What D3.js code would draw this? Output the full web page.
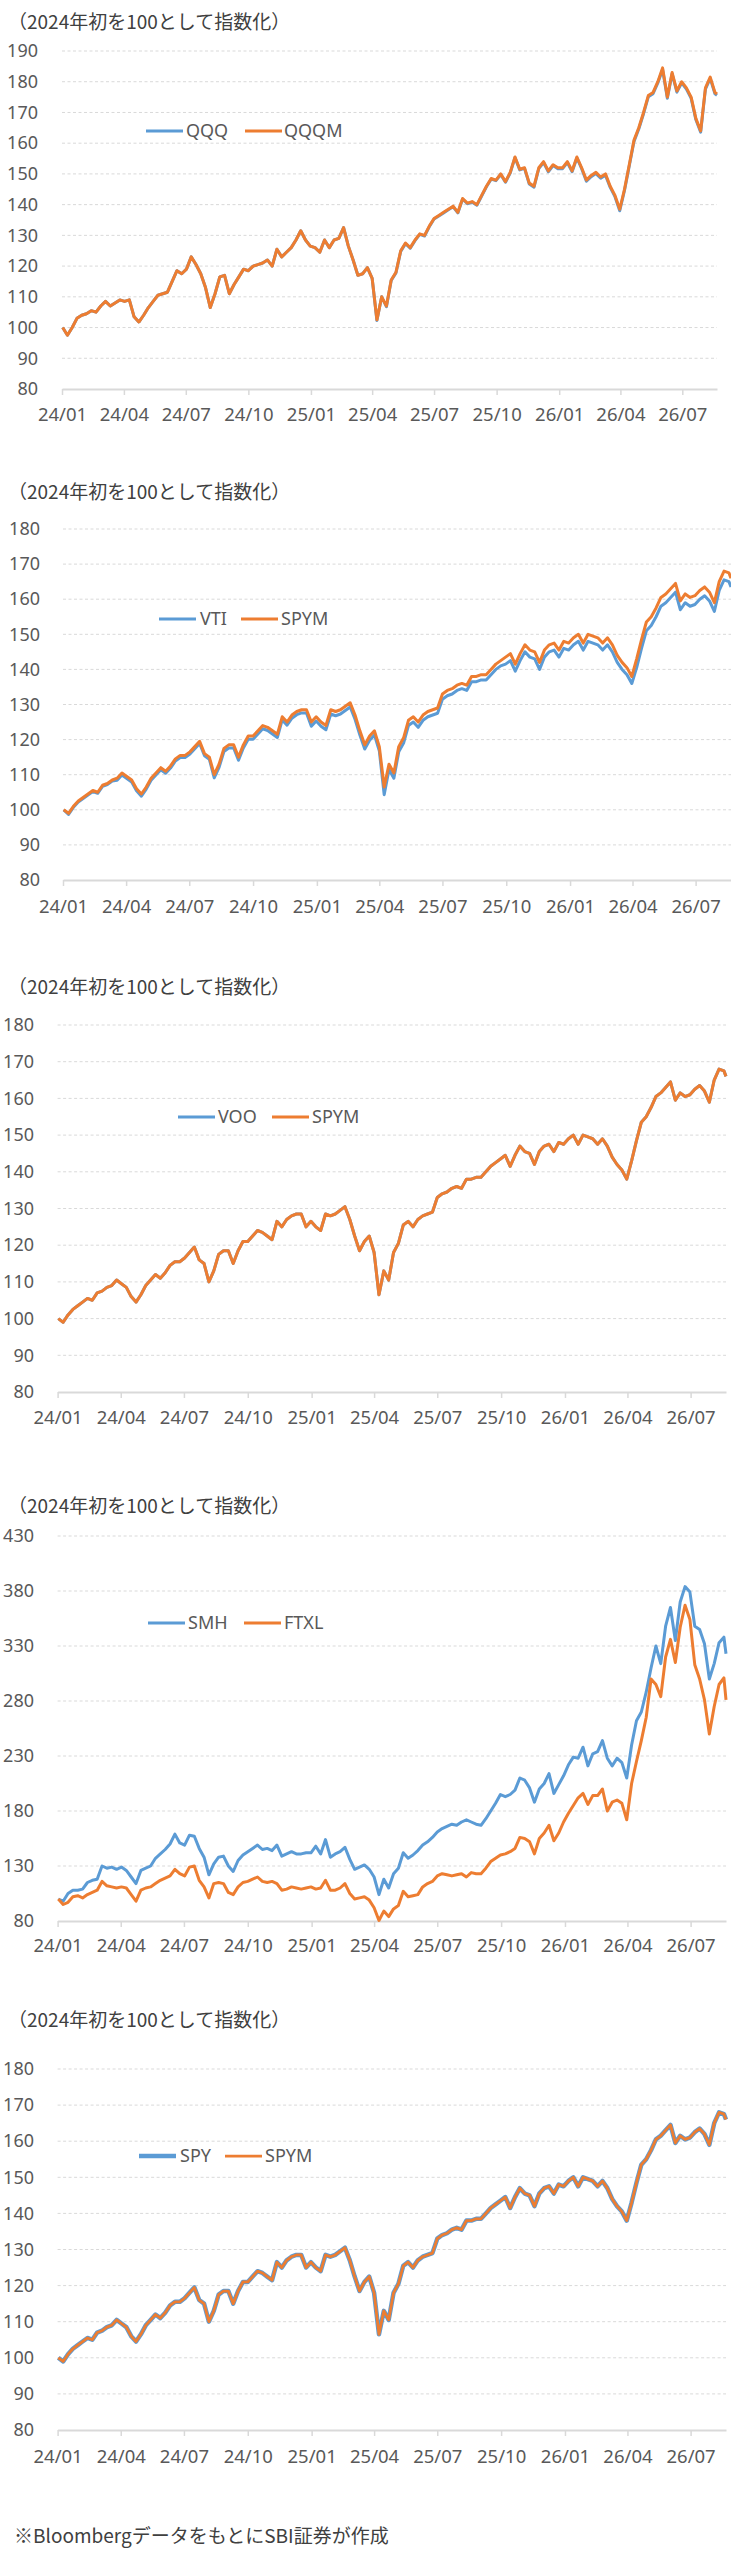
<!DOCTYPE html>
<html>
<head>
<meta charset="utf-8">
<script src="https://cdn.jsdelivr.net/npm/d3@7"></script>
<style>
  body { margin: 0; background: #fff; }
  text { font-family: "Noto Sans", "Liberation Sans", sans-serif; fill: #595959; }
  .jp { font-family: "Noto Sans CJK JP", sans-serif; fill: #404040; }
</style>
</head>
<body>
<div id="chart"></div>
<script>
// weekly samples (2024年初 = 100)
var dates = [
  "2024-01-02","2024-01-09","2024-01-16","2024-01-23","2024-01-30","2024-02-06","2024-02-13","2024-02-20","2024-02-27","2024-03-05",
  "2024-03-12","2024-03-19","2024-03-26","2024-04-02","2024-04-09","2024-04-16","2024-04-23","2024-04-30","2024-05-07","2024-05-14",
  "2024-05-21","2024-05-28","2024-06-04","2024-06-11","2024-06-18","2024-06-25","2024-07-02","2024-07-09","2024-07-16","2024-07-23",
  "2024-07-30","2024-08-06","2024-08-13","2024-08-20","2024-08-27","2024-09-03","2024-09-10","2024-09-17","2024-09-24","2024-10-01",
  "2024-10-08","2024-10-15","2024-10-22","2024-10-29","2024-11-05","2024-11-12","2024-11-19","2024-11-26","2024-12-03","2024-12-10",
  "2024-12-17","2024-12-24","2024-12-31","2025-01-07","2025-01-14","2025-01-21","2025-01-28","2025-02-04","2025-02-11","2025-02-18",
  "2025-02-25","2025-03-04","2025-03-11","2025-03-18","2025-03-25","2025-04-01","2025-04-08","2025-04-15","2025-04-22","2025-04-29",
  "2025-05-06","2025-05-13","2025-05-20","2025-05-27","2025-06-03","2025-06-10","2025-06-17","2025-06-24","2025-07-01","2025-07-08",
  "2025-07-15","2025-07-22","2025-07-29","2025-08-05","2025-08-12","2025-08-19","2025-08-26","2025-09-02","2025-09-09","2025-09-16",
  "2025-09-23","2025-09-30","2025-10-07","2025-10-14","2025-10-21","2025-10-28","2025-11-04","2025-11-11","2025-11-18","2025-11-25",
  "2025-12-02","2025-12-09","2025-12-16","2025-12-23","2025-12-30","2026-01-06","2026-01-13","2026-01-20","2026-01-27","2026-02-03",
  "2026-02-10","2026-02-17","2026-02-24","2026-03-03","2026-03-10","2026-03-17","2026-03-24","2026-03-31","2026-04-07","2026-04-14",
  "2026-04-21","2026-04-28","2026-05-05","2026-05-12","2026-05-19","2026-05-26","2026-06-02","2026-06-09","2026-06-16","2026-06-23",
  "2026-06-30","2026-07-07","2026-07-14","2026-07-21","2026-07-28","2026-08-04","2026-08-11","2026-08-18","2026-08-21"
];

var qqq = [
  100, 97.5, 100, 103, 104, 104.5, 105.5, 105, 107, 108.5,
  107, 108, 109, 108.5, 109, 103.5, 101.8, 104, 106.5, 108.5,
  110.5, 111, 111.5, 115, 118.5, 117.5, 119, 123, 120.5, 117.5,
  113, 106.5, 111, 116.5, 117, 111, 114, 116.5, 119, 118.5,
  120, 120.5, 121, 122, 120, 125.5, 123, 124.5, 126, 128.5,
  131.5, 128.5, 126.5, 126, 124.5, 128.5, 126, 128.5, 129, 132.5,
  126.5, 122, 117, 117.5, 119.5, 116, 102.3, 110, 106.8, 115.3,
  117.8, 124.8, 127.3, 125.8, 128.3, 130.3, 129.8, 132.8, 135.3, 136.3,
  137.3, 138.3, 139.3, 137.3, 141.8, 140.3, 140.8, 139.8, 142.8, 145.8,
  148.3, 147.8, 149.8, 147.3, 150.3, 155.3, 151.3, 151.8, 146.7, 145.7,
  151.7, 153.7, 150.7, 152.7, 151.7, 151.7, 153.7, 150.7, 155.2, 151.7,
  147.6, 149.1, 150.1, 148.6, 149.6, 145.6, 142.6, 138, 144.6, 152.6,
  160.6, 164.6, 169.6, 175.1, 176.1, 179.6, 184, 174.6, 182.6, 176.6,
  179.6, 177.6, 174.6, 167.6, 163.6, 177.6, 181.1, 176.1, 175.6
];
var qqqm = [
  100, 97.5, 100, 103, 104, 104.5, 105.5, 105, 107, 108.5,
  107, 108, 109, 108.5, 109, 103.5, 101.8, 104, 106.5, 108.5,
  110.5, 111, 111.5, 115, 118.5, 117.5, 119, 123, 120.5, 117.5,
  113, 106.5, 111, 116.5, 117, 111, 114, 116.5, 119, 118.5,
  120, 120.5, 121, 122, 120, 125.5, 123, 124.5, 126, 128.5,
  131.5, 128.5, 126.5, 126, 124.5, 128.5, 126, 128.5, 129, 132.5,
  126.5, 122, 117, 117.5, 119.5, 116, 102.5, 110, 107, 115.5,
  118, 125, 127.5, 126, 128.5, 130.5, 130, 133, 135.5, 136.5,
  137.5, 138.5, 139.5, 137.5, 142, 140.5, 141, 140, 143, 146,
  148.5, 148, 150, 147.5, 150.5, 155.5, 151.5, 152, 147, 146,
  152, 154, 151, 153, 152, 152, 154, 151, 155.5, 152,
  148, 149.5, 150.5, 149, 150, 146, 143, 138.5, 145, 153,
  161, 165, 170, 175.5, 176.5, 180, 184.5, 175, 183, 177,
  180, 178, 175, 168, 164, 178, 181.5, 176.5, 176
];

var spym = [
  100, 99, 101, 102.5, 103.5, 104.5, 105.5, 105, 107, 107.5,
  108.5, 109, 110.5, 109.5, 108.5, 106, 104.5, 106.5, 109, 110.5,
  112, 111, 112.5, 114.5, 115.5, 115.5, 116.5, 118, 119.5, 116,
  115, 110, 113, 117.5, 118.5, 118.5, 115, 118.5, 121, 121,
  122.5, 124, 123.5, 122.5, 121.5, 126.5, 125, 127, 128, 128.5,
  128.5, 125, 126.5, 125, 124, 128.5, 128, 128.5, 129.5, 130.5,
  127, 122.5, 118.5, 121, 122.5, 118, 106.5, 113, 110.5, 118,
  120.5, 125.5, 126.5, 125, 127, 128, 128.5, 129, 133, 134,
  134.5, 135.5, 136, 135.5, 138, 138, 138.5, 138.5, 140, 141.5,
  142.5, 143.5, 144.5, 141.5, 144.5, 147, 145.5, 145, 142, 145.5,
  147, 147.5, 145.5, 148, 147.5, 149, 150, 147.5, 150, 149.5,
  149, 147.5, 149, 147, 144, 142, 140.5, 138, 143, 148.5,
  153.5, 155, 157.5, 160.5, 161.5, 163, 164.5, 159.5, 161.5, 160.5,
  161, 162.5, 163.5, 162, 159, 165, 168, 167.5, 166
];
var vti = [
  100, 98.7, 100.7, 102.2, 103.2, 104.2, 105.2, 104.7, 106.7, 107.2,
  108.2, 108.4, 109.9, 108.9, 107.9, 105.4, 103.9, 105.9, 108.4, 109.9,
  111.4, 110.4, 111.9, 113.9, 114.9, 114.9, 115.9, 117.4, 118.9, 115.4,
  114.4, 109.1, 112.1, 116.6, 117.6, 117.6, 114.1, 117.6, 120.1, 120.1,
  121.6, 123.1, 122.6, 121.6, 120.6, 125.6, 124.1, 126.1, 127.1, 127.6,
  127.6, 123.8, 125.3, 123.8, 122.8, 127.3, 126.8, 127.3, 128.3, 129.3,
  125.8, 121.3, 117.3, 119.8, 121.3, 116.8, 104.3, 111.5, 109, 116.5,
  119, 124, 125, 123.5, 125.5, 126.5, 127, 127.5, 131.5, 132.5,
  133, 134, 134.5, 134, 136.5, 136.5, 137, 137, 138.5, 140,
  141, 141.5, 142.5, 139.5, 142.5, 145, 143.5, 143, 140, 143.5,
  145, 145.5, 143.5, 146, 145.5, 147, 148, 145.5, 148, 147.5,
  147, 145.5, 147, 145, 142, 140, 138.5, 136, 140.5, 146,
  151, 152.5, 155, 158, 159, 160.5, 162, 157, 159, 158,
  158.5, 160, 161, 159.5, 156.5, 162.5, 165.5, 165, 163.5
];
var voo = [
  100, 99, 101, 102.5, 103.5, 104.5, 105.5, 105, 107, 107.5,
  108.5, 109, 110.5, 109.5, 108.5, 106, 104.5, 106.5, 109, 110.5,
  112, 111, 112.5, 114.5, 115.5, 115.5, 116.5, 118, 119.5, 116,
  115, 110, 113, 117.5, 118.5, 118.5, 115, 118.5, 121, 121,
  122.5, 124, 123.5, 122.5, 121.5, 126.5, 125, 127, 128, 128.5,
  128.5, 125, 126.5, 125, 124, 128.5, 128, 128.5, 129.5, 130.5,
  127, 122.5, 118.5, 121, 122.5, 118, 106.5, 113, 110.5, 118,
  120.5, 125.5, 126.5, 125, 127, 128, 128.5, 129, 133, 134,
  134.5, 135.5, 136, 135.5, 138, 138, 138.5, 138.5, 140, 141.5,
  142.5, 143.5, 144.5, 141.5, 144.5, 147, 145.5, 145, 142, 145.5,
  147, 147.5, 145.5, 148, 147.5, 149, 150, 147.5, 150, 149.5,
  149, 147.5, 149, 147, 144, 142, 140.5, 138, 143, 148.5,
  153.5, 155, 157.5, 160.5, 161.5, 163, 164.5, 159.5, 161.5, 160.5,
  161, 162.5, 163.5, 162, 159, 165, 168, 167.5, 166
];
var spy = [
  100, 99, 101, 102.5, 103.5, 104.5, 105.5, 105, 107, 107.5,
  108.5, 109, 110.5, 109.5, 108.5, 106, 104.5, 106.5, 109, 110.5,
  112, 111, 112.5, 114.5, 115.5, 115.5, 116.5, 118, 119.5, 116,
  115, 110, 113, 117.5, 118.5, 118.5, 115, 118.5, 121, 121,
  122.5, 124, 123.5, 122.5, 121.5, 126.5, 125, 127, 128, 128.5,
  128.5, 125, 126.5, 125, 124, 128.5, 128, 128.5, 129.5, 130.5,
  127, 122.5, 118.5, 121, 122.5, 118, 106.5, 113, 110.5, 118,
  120.5, 125.5, 126.5, 125, 127, 128, 128.5, 129, 133, 134,
  134.5, 135.5, 136, 135.5, 138, 138, 138.5, 138.5, 140, 141.5,
  142.5, 143.5, 144.5, 141.5, 144.5, 147, 145.5, 145, 142, 145.5,
  147, 147.5, 145.5, 148, 147.5, 149, 150, 147.5, 150, 149.5,
  149, 147.5, 149, 147, 144, 142, 140.5, 138, 143, 148.5,
  153.5, 155, 157.5, 160.5, 161.5, 163, 164.5, 159.5, 161.5, 160.5,
  161, 162.5, 163.5, 162, 159, 165, 168, 167.5, 166
];

var smh = [
  100, 98, 105, 108, 108, 109, 115, 117, 118, 130,
  128, 129, 127, 129, 126, 120, 114, 126, 128, 130,
  137, 141, 145, 150, 159, 151, 149, 158, 157, 146,
  138, 122, 132, 138, 139, 130, 125, 135, 140, 143,
  146, 149, 145, 146, 144, 149, 139, 141, 143, 141,
  141, 142, 142, 148, 141, 154, 138, 141, 143, 147,
  136, 127, 129, 131, 127, 120, 104, 118, 110, 123,
  128, 142, 137, 140, 144, 149, 152, 156, 161, 164,
  166, 168, 167, 170, 172, 170, 168, 167, 173, 180,
  187, 195, 193, 195, 199, 210, 208, 201, 188, 200,
  205, 214, 196, 204, 212, 222, 229, 228, 238, 221,
  232, 234, 244, 228, 221, 228, 224, 210, 240, 262,
  270, 288, 310, 330, 314, 348, 365, 335, 370, 384,
  379, 348, 345, 332, 300, 314, 333, 338, 323
];
var ftxl = [
  100, 95, 97, 102, 103, 101, 104, 106, 108, 116,
  112, 111, 110, 111, 110, 104, 98, 108, 110, 111,
  114, 117, 119, 121, 127, 123, 121, 129, 130, 117,
  111, 101, 114, 115, 114, 106, 104, 111, 115, 116,
  118, 120, 116, 115, 116, 114, 108, 109, 111, 110,
  109, 110, 111, 109, 110, 117, 108, 108, 110, 114,
  105, 100, 101, 102, 99, 92, 80.5, 89, 84, 91,
  94, 107, 102, 103, 104, 111, 114, 116, 121, 123,
  122, 121, 122, 123, 120, 124, 123, 123, 128, 134,
  137, 140, 141, 143, 146, 156, 155, 152, 141, 155,
  160, 167, 153, 160, 170, 178, 185, 192, 196, 186,
  194, 194, 200, 180, 188, 190, 187, 172, 205, 225,
  244, 265, 300, 295, 284, 320, 336, 315, 347, 367,
  354, 313, 300, 281, 250, 275, 295, 301, 281
];

var tickDates = ["2024-01-01","2024-04-01","2024-07-01","2024-10-01","2025-01-01","2025-04-01",
                 "2025-07-01","2025-10-01","2026-01-01","2026-04-01","2026-07-01"];
var tickLabels = ["24/01","24/04","24/07","24/10","25/01","25/04","25/07","25/10","26/01","26/04","26/07"];
var titleText = "（2024年初を100として指数化）";
var noteText = "※Bloombergデータをもとに SBI証券が作成".replace(" ", "");

var BLUE = "#5b9bd5", ORANGE = "#ed7d31";
var parse = d3.timeParse("%Y-%m-%d");
var xDomain = [parse("2024-01-01"), parse("2026-08-21")];

// each panel was pasted at a slightly different size, so positions are per panel
var panels = [
  { title: 22, yTop: 51, yBot: 389, x0: 62, x1: 717, lo: 80, hi: 190, step: 10, lblX: 38, xlblY: 415, legY: 131,
    lines: [ { name: "QQQ", values: qqq, color: BLUE, w: 3, lx: 146, tx: 186 },
             { name: "QQQM", values: qqqm, color: ORANGE, w: 3, lx: 245, tx: 284 } ] },
  { title: 492, yTop: 529, yBot: 880, x0: 63, x1: 731, lo: 80, hi: 180, step: 10, lblX: 40, xlblY: 907, legY: 619,
    lines: [ { name: "VTI", values: vti, color: BLUE, w: 3, lx: 159, tx: 200 },
             { name: "SPYM", values: spym, color: ORANGE, w: 3, lx: 241, tx: 281 } ] },
  { title: 987, yTop: 1025, yBot: 1392, x0: 57.6, x1: 726, lo: 80, hi: 180, step: 10, lblX: 34, xlblY: 1418, legY: 1117,
    lines: [ { name: "VOO", values: voo, color: BLUE, w: 3, lx: 178, tx: 218 },
             { name: "SPYM", values: spym, color: ORANGE, w: 3, lx: 272, tx: 312 } ] },
  { title: 1506, yTop: 1536, yBot: 1921, x0: 57.6, x1: 726, lo: 80, hi: 430, step: 50, lblX: 34, xlblY: 1946, legY: 1623,
    lines: [ { name: "SMH", values: smh, color: BLUE, w: 3, lx: 148, tx: 188 },
             { name: "FTXL", values: ftxl, color: ORANGE, w: 3, lx: 244, tx: 284 } ] },
  { title: 2020, yTop: 2069, yBot: 2430, x0: 57.6, x1: 726, lo: 80, hi: 180, step: 10, lblX: 34, xlblY: 2457, legY: 2156,
    lines: [ { name: "SPY", values: spy, color: BLUE, w: 4.5, lx: 139, tx: 180 },
             { name: "SPYM", values: spym, color: ORANGE, w: 2.75, lx: 225, tx: 265 } ] }
];

var svg = d3.select("#chart").append("svg")
    .attr("width", 731).attr("height", 2560)
    .style("display", "block");
svg.append("rect").attr("width", 731).attr("height", 2560).attr("fill", "#fff");

panels.forEach(function (p) {
    var g = svg.append("g");
    var x = d3.scaleTime().domain(xDomain).range([p.x0, p.x1]);
    var y = d3.scaleLinear().domain([p.lo, p.hi]).range([p.yBot, p.yTop]);
    var yTicks = d3.range(p.lo, p.hi + 1, p.step);

    g.append("text").attr("class", "jp")
        .attr("x", 8).attr("y", p.title).attr("dy", "0.35em")
        .style("font-size", "19px")
        .text(titleText);

    // dashed gridlines
    g.selectAll(".grid").data(yTicks.filter(function (d) { return d > p.lo; }))
        .enter().append("line")
        .attr("x1", p.x0).attr("x2", p.x1)
        .attr("y1", function (d) { return y(d); }).attr("y2", function (d) { return y(d); })
        .attr("stroke", "#d9d9d9").attr("stroke-width", 1).attr("stroke-dasharray", "3,2.5");

    var yAxis = g.append("g").attr("transform", "translate(" + p.lblX + ",0)")
        .call(d3.axisLeft(y).tickValues(yTicks).tickSize(0).tickPadding(0));
    yAxis.select(".domain").remove();
    yAxis.selectAll("text").style("font-size", "18px").attr("fill", "#595959").attr("font-family", null);

    var xAxis = g.append("g").attr("transform", "translate(0," + p.yBot + ")")
        .call(d3.axisBottom(x).tickValues(tickDates.map(parse))
            .tickFormat(function (d, i) { return tickLabels[i]; })
            .tickSizeInner(6).tickSizeOuter(0).tickPadding(0));
    xAxis.select(".domain").attr("stroke", "#d9d9d9").attr("stroke-width", 2);
    xAxis.selectAll(".tick line").attr("stroke", "#d9d9d9").attr("stroke-width", 1.5);
    xAxis.selectAll("text").attr("y", p.xlblY - p.yBot).attr("dy", "0.35em")
        .style("font-size", "18.5px").attr("fill", "#595959").attr("font-family", null);

    var line = d3.line()
        .x(function (d, i) { return x(parse(dates[i])); })
        .y(function (d) { return y(d); });

    p.lines.forEach(function (s) {
        g.append("path").datum(s.values)
            .attr("d", line)
            .attr("fill", "none")
            .attr("stroke", s.color)
            .attr("stroke-width", s.w)
            .attr("stroke-linejoin", "round");

        g.append("line")
            .attr("x1", s.lx).attr("x2", s.lx + 37)
            .attr("y1", p.legY).attr("y2", p.legY)
            .attr("stroke", s.color).attr("stroke-width", s.w);
        g.append("text")
            .attr("x", s.tx).attr("y", p.legY).attr("dy", "0.35em")
            .style("font-size", "18px")
            .text(s.name);
    });
});

svg.append("text").attr("class", "jp")
    .attr("x", 14).attr("y", 2536).attr("dy", "0.35em")
    .style("font-size", "19px")
    .text(noteText);
</script>
</body>
</html>
